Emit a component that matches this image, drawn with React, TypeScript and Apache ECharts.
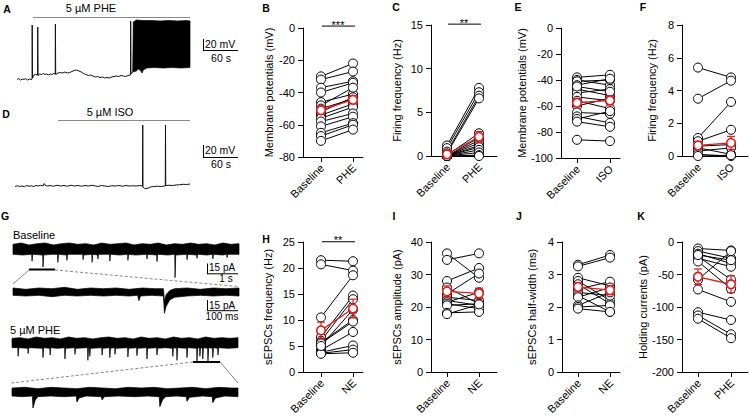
import React, { useEffect, useRef } from 'react';
import * as echarts from 'echarts';

const FONT = '"Liberation Sans", Arial, Helvetica, sans-serif';
const RED = '#e31a1c';

// ---------------- scatter-panel data ----------------
const catsPhe = ['Baseline', 'PHE'];
const catsIso = ['Baseline', 'ISO'];
const catsNe = ['Baseline', 'NE'];

// B: membrane potential (mV), baseline vs PHE
const bBaseline = [-30, -32, -37, -40, -46, -48, -50, -52, -54, -56, -58, -61, -65, -67, -70];
const bPhe = [-22, -27, -33, -34, -41, -37, -44, -43, -47, -49, -53, -55, -59, -60, -63];
const bMean = [-51, -44.5];
const bSem = [2.6, 2.5];

// C: firing frequency (Hz), baseline vs PHE
const cBaseline = [1.2, 0.9, 0.5, 0.3, 0.1, 0, 0, 0, 0, 0, 0, 0, 0, 0];
const cPhe = [7.8, 7.3, 6.9, 6.6, 2.6, 2.1, 1.8, 1.5, 1.2, 1.0, 0.7, 0.4, 0.1, 0.0];
const cMean = [0.2, 2.2];
const cSem = [0.1, 0.6];

// E: membrane potential (mV), baseline vs ISO
const eBaseline = [-38, -40, -41, -44, -47, -50, -53, -56, -60, -65, -68, -70, -72, -86, -45];
const eIso = [-36, -44, -40, -39, -52, -47, -56, -62, -54, -66, -73, -64, -76, -87, -49];
const eMean = [-57.5, -55.7];
const eSem = [3.0, 3.5];

// F: firing frequency (Hz), baseline vs ISO
const fBaseline = [5.4, 3.5, 1.1, 0.9, 0.6, 0.5, 0.3, 0.1, 0];
const fIso = [4.8, 4.6, 3.3, 1.6, 0.7, 0.1, 0.5, 0.0, 0.05];
const fMean = [0.65, 0.8];
const fSem = [0.25, 0.4];

// H: sEPSC frequency (Hz), baseline vs NE
const hBaseline = [21.5, 20.7, 10.5, 6.7, 6.0, 5.7, 5.5, 4.2, 3.8, 3.6, 3.5, 5.0];
const hNe = [21.3, 19.5, 18.6, 14.7, 14.0, 10.0, 9.7, 7.7, 5.1, 4.3, 3.7, 12.0];
const hMean = [8.0, 12.2];
const hSem = [1.6, 1.8];

// I: sEPSC amplitude (pA)
const iBaseline = [36.5, 34.5, 28.0, 26.0, 24.0, 23.0, 22.0, 21.5, 21.0, 20.5, 18.2, 17.8];
const iNe = [29.0, 36.5, 32.0, 21.0, 30.3, 22.0, 20.5, 24.5, 19.5, 21.0, 18.5, 20.8];
const iMean = [24.8, 24.2];
const iSem = [1.7, 1.6];

// J: sEPSC half-width (ms)
const jBaseline = [3.3, 3.25, 2.9, 2.8, 2.7, 2.55, 2.45, 2.35, 2.3, 2.05, 2.0, 1.95];
const jNe = [3.6, 3.52, 2.65, 2.2, 2.1, 2.78, 2.35, 1.85, 2.6, 2.45, 2.05, 1.85];
const jMean = [2.62, 2.52];
const jSem = [0.13, 0.14];

// K: holding currents (pA)
const kBaseline = [-10, -14, -18, -22, -25, -30, -58, -73, -108, -113, -118, -20];
const kPhe = [-13, -25, -33, -58, -38, -72, -14, -92, -120, -142, -148, -28];
const kMean = [-53.5, -65];
const kSem = [12, 13];

// ---------------- trace data ----------------
// A: membrane potential (mV) vs time (s)
const aTrace = [
  [0, -61], [3, -59], [6, -62], [9, -60], [12, -61], [15, -59], [18, -62], [21, -60], [24, -61], [25.8, -60],
  [26, 48], [26.5, -58], [29, -52], [32, -51], [35.2, -52], [35.5, 44], [36, -53], [39, -50], [42, -51],
  [45, -49], [48, -51], [51, -50], [54, -52], [57, -50], [60, -51], [63, -49], [65.4, -50], [65.7, 50],
  [66.2, -51], [70, -48], [74, -47], [78, -48], [82, -46], [86, -48], [90, -47], [94, -45], [98, -43],
  [102, -42], [106, -44], [110, -46], [114, -49], [118, -51], [122, -53], [126, -52], [130, -54],
  [134, -56], [138, -55], [142, -57], [146, -56], [150, -58], [154, -57], [158, -58], [162, -56],
  [166, -55], [170, -54], [174, -55], [178, -53], [182, -54], [186, -55], [190, -53], [194.2, -52],
  [194.5, 56], [195, -50], [198, -46],
];
const aBurstTop = [[198, -46], [199, 54], [204, 58], [215, 57], [230, 57], [245, 56], [260, 57], [275, 56], [290, 57], [296, 56]];
const aBurstBottom = [[198, -46], [204, -44], [208, -40], [212, -44], [214, -48], [216, -42], [222, -38], [235, -37], [250, -38], [265, -37], [280, -38], [296, -37]];

// D: membrane potential (mV) vs time (s)
const dTrace = [
  [0, -61], [4, -59.5], [8, -61], [12, -60], [16, -61.5], [20, -59], [24, -60.5], [28, -59.5], [32, -61],
  [36, -59], [40, -60], [44, -58.5], [48, -60], [50, -55], [52, -59], [56, -60], [60, -59], [66, -60.5],
  [72, -58.5], [78, -60], [84, -59], [90, -60.5], [96, -58.5], [102, -60], [108, -59], [114, -60.5],
  [120, -59], [126, -60], [132, -58.5], [138, -60], [142, -61], [148, -59], [154, -60], [160, -61],
  [166, -59.5], [172, -60], [178, -59], [184, -60.5], [190, -59], [196, -60], [202, -59.5], [208, -60],
  [214, -59], [218.6, -60], [219, 62], [219.4, -62], [222, -65], [228, -64.5], [232, -62], [238, -61],
  [244, -60.5], [250, -61], [256, -60], [257.6, -60], [258, 62], [258.4, -59], [264, -58.5], [270, -59],
  [276, -58], [282, -57.5], [288, -56.5], [294, -57], [300, -56],
];

// G1: baseline sEPSCs (pA) vs time (s)
const g1Upper = [
  [0, 7], [0.25, 9], [0.5, 6], [0.75, 8], [1.0, 9], [1.25, 6], [1.5, 8], [1.75, 9], [2.0, 7], [2.25, 8],
  [2.5, 6], [2.75, 9], [3.0, 7], [3.25, 8], [3.5, 9], [3.75, 6], [4.0, 8], [4.25, 7], [4.5, 9], [4.75, 6],
  [5.0, 8], [5.25, 7], [5.5, 9], [5.75, 7], [6.0, 8], [6.25, 6], [6.5, 9], [6.75, 7], [7.0, 8],
];
const g1Lower = [
  [0, -8], [0.3, -9], [0.58, -8], [0.59, -18], [0.61, -8], [0.92, -9], [0.93, -27], [0.95, -9], [1.2, -8],
  [1.38, -8], [1.39, -20], [1.41, -8], [1.66, -9], [1.67, -17], [1.69, -8], [2.16, -8], [2.17, -16],
  [2.19, -9], [2.44, -8], [2.45, -20], [2.47, -8], [2.62, -9], [2.63, -15], [2.65, -8], [2.99, -8],
  [3.0, -18], [3.02, -8], [3.3, -9], [3.55, -8], [3.56, -17], [3.58, -8], [3.8, -9], [4.14, -8],
  [4.15, -15], [4.17, -8], [4.45, -9], [4.46, -19], [4.48, -8], [4.8, -9], [5.01, -8], [5.02, -43],
  [5.04, -9], [5.38, -8], [5.39, -16], [5.41, -8], [5.69, -9], [5.7, -14], [5.72, -8], [6.0, -9],
  [6.18, -8], [6.19, -15], [6.21, -8], [6.5, -9], [6.62, -8], [6.63, -13], [6.65, -8], [7.0, -8],
];
// G2: expanded baseline (pA) vs time (ms)
const g2Upper = [
  [0, 6], [40, 4], [80, 6], [120, 5], [160, 7], [200, 4], [240, 6], [280, 5], [320, 6], [360, 4], [400, 6],
  [440, 5], [466, 5], [469, -14], [474, -4], [485, 2], [500, 5], [540, 6], [580, 4], [620, 6], [660, 5], [700, 6],
];
const g2Lower = [
  [0, -5], [40, -6], [80, -5], [120, -7], [160, -5], [200, -6], [240, -5], [280, -6], [320, -5], [360, -6],
  [386, -5], [390, -13], [395, -6], [430, -5], [466, -6], [469, -32], [474, -22], [485, -12], [500, -8],
  [540, -6], [580, -5], [620, -6], [660, -5], [700, -6],
];
// G3: PHE sEPSCs (pA) vs time (s)
const g3Upper = [
  [0, 7], [0.25, 8], [0.5, 6], [0.75, 9], [1.0, 7], [1.25, 8], [1.5, 6], [1.75, 9], [2.0, 7], [2.25, 8],
  [2.5, 6], [2.75, 8], [3.0, 9], [3.25, 7], [3.5, 8], [3.75, 6], [4.0, 9], [4.25, 7], [4.5, 8], [4.75, 6],
  [5.0, 9], [5.25, 7], [5.5, 8], [5.75, 6], [6.0, 9], [6.25, 7], [6.5, 8], [6.75, 7], [7.0, 8],
];
const g3Lower = [
  [0, -7], [0.18, -7], [0.19, -20], [0.21, -7], [0.49, -8], [0.5, -16], [0.52, -7], [0.95, -8], [0.96, -22],
  [0.98, -7], [1.17, -8], [1.18, -18], [1.2, -7], [1.4, -8], [1.63, -7], [1.64, -24], [1.66, -8], [1.94, -7],
  [1.95, -17], [1.97, -8], [2.34, -7], [2.35, -26], [2.37, -8], [2.4, -7], [2.41, -20], [2.43, -8],
  [2.78, -7], [2.79, -18], [2.81, -8], [3.02, -7], [3.03, -22], [3.05, -8], [3.18, -7], [3.19, -17],
  [3.21, -8], [3.58, -7], [3.59, -21], [3.61, -8], [3.86, -7], [3.87, -19], [3.89, -8], [4.17, -7],
  [4.18, -24], [4.2, -8], [4.48, -7], [4.49, -18], [4.51, -8], [4.75, -7], [4.97, -8], [4.98, -20],
  [5.0, -7], [5.1, -8], [5.11, -26], [5.13, -7], [5.41, -8], [5.42, -22], [5.44, -7], [5.72, -8],
  [5.73, -28], [5.75, -7], [5.81, -8], [5.82, -20], [5.84, -7], [5.9, -8], [5.91, -24], [5.93, -7],
  [6.06, -8], [6.07, -27], [6.09, -7], [6.21, -8], [6.22, -22], [6.24, -7], [6.37, -8], [6.38, -18],
  [6.4, -7], [6.7, -8], [7.0, -7],
];
// G4: expanded PHE (pA) vs time (ms)
const g4Upper = [
  [0, 6], [40, 7], [80, 5], [120, 7], [160, 6], [200, 5], [240, 7], [280, 6], [320, 5], [360, 7], [400, 6],
  [440, 7], [480, 5], [520, 6], [560, 7], [600, 5], [640, 7], [680, 6], [700, 6],
];
const g4Lower = [
  [0, -6], [30, -7], [63, -6], [65, -24], [72, -12], [80, -7], [120, -6], [160, -7], [199, -6], [201, -15],
  [208, -9], [230, -6], [277, -7], [279, -12], [286, -7], [330, -6], [380, -7], [420, -6], [456, -7],
  [458, -22], [466, -12], [476, -7], [510, -6], [540, -7], [542, -14], [550, -8], [590, -6], [620, -7],
  [622, -16], [630, -9], [660, -6], [700, -7],
];

// ---------------- panel layout ----------------
// x axis: one category slot per pixel; i0/i1 are the slots of the two conditions
const panels = [
  { base: bBaseline, after: bPhe, mean: bMean, sem: bSem, cats: catsPhe, yName: 'Membrane potentials (mV)', yMin: -80, yMax: 0, step: 20, left: 303, top: 28, width: 60, height: 129, i0: 18, i1: 50, gap: 29, sig: '***', sigY: 1.2 },
  { base: cBaseline, after: cPhe, mean: cMean, sem: cSem, cats: catsPhe, yName: 'Firing frequency (Hz)', yMin: 0, yMax: 15, step: 5, left: 431, top: 25, width: 66, height: 131, i0: 16, i1: 48, gap: 29, sig: '**', sigY: 15.1 },
  { base: eBaseline, after: eIso, mean: eMean, sem: eSem, cats: catsIso, yName: 'Membrane potentials (mV)', yMin: -100, yMax: 0, step: 20, left: 561, top: 28, width: 59, height: 130, i0: 16, i1: 49, gap: 33 },
  { base: fBaseline, after: fIso, mean: fMean, sem: fSem, cats: catsIso, yName: 'Firing frequency (Hz)', yMin: 0, yMax: 8, step: 2, left: 682, top: 25, width: 66, height: 131, i0: 16, i1: 49, gap: 25 },
  { base: hBaseline, after: hNe, mean: hMean, sem: hSem, cats: catsNe, yName: 'sEPSCs frequency (Hz)', yMin: 0, yMax: 25, step: 5, left: 303, top: 242, width: 60, height: 130, i0: 18, i1: 50, gap: 30, sig: '**', sigY: 25.05 },
  { base: iBaseline, after: iNe, mean: iMean, sem: iSem, cats: catsNe, yName: 'sEPSCs amplitude (pA)', yMin: 0, yMax: 40, step: 10, left: 431, top: 242, width: 66, height: 130, i0: 16, i1: 48, gap: 29 },
  { base: jBaseline, after: jNe, mean: jMean, sem: jSem, cats: catsNe, yName: 'sEPSCs half-width (ms)', yMin: 0, yMax: 4, step: 1, left: 562, top: 242, width: 58, height: 130, i0: 16, i1: 48, gap: 25 },
  { base: kBaseline, after: kPhe, mean: kMean, sem: kSem, cats: catsPhe, yName: 'Holding currents (pA)', yMin: -200, yMax: 0, step: 50, left: 682, top: 242, width: 66, height: 130, i0: 16, i1: 49, gap: 27 },
];
const LABEL_ROT = Math.PI / 4;

const traceGrids = [
  { left: 17, top: 15, width: 173, height: 70, xMin: 0, xMax: 296, yMin: -72, yMax: 68 },
  { left: 15, top: 115, width: 175, height: 80, xMin: 0, xMax: 300, yMin: -78, yMax: 82 },
  { left: 13, top: 238, width: 226, height: 44, xMin: 0, xMax: 7, yMin: -49.5, yMax: 16.5 },
  { left: 13, top: 284, width: 226, height: 32, xMin: 0, xMax: 700, yMin: -36, yMax: 12 },
  { left: 12, top: 333, width: 226, height: 32, xMin: 0, xMax: 7, yMin: -33, yMax: 15 },
  { left: 12, top: 383, width: 226, height: 30, xMin: 0, xMax: 700, yMin: -31.5, yMax: 13.5 },
];

function bandSeries(idx: number, upper: number[][], lower: number[][]) {
  return {
    type: 'custom', xAxisIndex: idx, yAxisIndex: idx, silent: true, z: 2,
    data: [[upper[0][0], upper[0][1]]],
    renderItem: (_p: any, api: any) => {
      const pts = upper.map((p) => api.coord(p)).concat(lower.slice().reverse().map((p) => api.coord(p)));
      return { type: 'polygon', shape: { points: pts }, style: { fill: '#000', stroke: '#000', lineWidth: 0.7 } };
    },
  };
}

function buildOption() {
  const grid: any[] = [];
  const xAxis: any[] = [];
  const yAxis: any[] = [];
  const series: any[] = [];
  const lab = { fontFamily: FONT, fontSize: 11, color: '#000' };

  panels.forEach((p, g) => {
    const n = p.width + 1;
    const slots = Array.from({ length: n }, (_, k) => 's' + k);
    const xs = [p.i0, p.i1];
    const show = (idx: number) => idx === p.i0 || idx === p.i1;
    grid.push({ left: p.left, top: p.top, width: p.width, height: p.height });
    xAxis.push({
      gridIndex: g, type: 'category', data: slots, boundaryGap: false,
      axisLine: { show: true, onZero: false, lineStyle: { color: '#000', width: 1 } },
      axisTick: { show: true, interval: show, length: 5, lineStyle: { color: '#000' } },
      axisLabel: { show: false },
      splitLine: { show: false },
    });
    yAxis.push({
      gridIndex: g, type: 'value', min: p.yMin, max: p.yMax, interval: p.step,
      axisLine: { show: true, onZero: false, lineStyle: { color: '#000', width: 1 } },
      axisTick: { show: true, length: 5, lineStyle: { color: '#000' } },
      axisLabel: { ...lab, margin: 8 },
      splitLine: { show: false },
      name: p.yName, nameLocation: 'middle', nameGap: p.gap,
      nameTextStyle: { ...lab },
    });
    // condition labels, rotated 45 degrees, anchored under each tick
    series.push({
      type: 'custom', xAxisIndex: g, yAxisIndex: g, silent: true, z: 2,
      data: [[xs[0], p.yMin, 0], [xs[1], p.yMin, 1]],
      renderItem: (_pp: any, api: any) => {
        const pt = api.coord([api.value(0), api.value(1)]);
        return {
          type: 'text', x: pt[0] + 1, y: pt[1] + 9, rotation: LABEL_ROT,
          style: { text: p.cats[api.value(2)], textAlign: 'right', textVerticalAlign: 'middle', font: `11px ${FONT}`, fill: '#000' },
        };
      },
    });
    series.push({
      type: 'custom', xAxisIndex: g, yAxisIndex: g, silent: true, z: 2,
      data: p.base.map((b, i) => [b, p.after[i]]),
      encode: { x: -1, y: [0, 1] },
      renderItem: (_pp: any, api: any) => {
        const p0 = api.coord([xs[0], api.value(0)]);
        const p1 = api.coord([xs[1], api.value(1)]);
        return { type: 'line', shape: { x1: p0[0], y1: p0[1], x2: p1[0], y2: p1[1] }, style: { stroke: '#000', lineWidth: 1 } };
      },
    });
    series.push({
      type: 'scatter', xAxisIndex: g, yAxisIndex: g, silent: true, z: 3, clip: false,
      symbol: 'circle', symbolSize: 9,
      itemStyle: { color: '#fff', borderColor: '#000', borderWidth: 1, opacity: 1 },
      data: [...p.base.map((v) => [xs[0], v]), ...p.after.map((v) => [xs[1], v])],
    });
    series.push({
      type: 'line', xAxisIndex: g, yAxisIndex: g, silent: true, z: 4, clip: false,
      data: p.mean.map((m, i) => [xs[i], m]),
      symbol: 'none',
      lineStyle: { color: RED, width: 1.3 },
    });
    series.push({
      type: 'custom', xAxisIndex: g, yAxisIndex: g, silent: true, z: 5,
      data: p.mean.map((m, i) => [xs[i], m, p.sem[i]]),
      renderItem: (_pp: any, api: any) => {
        const x = api.value(0), m = api.value(1), s = api.value(2);
        const c = api.coord([x, m]);
        const t = api.coord([x, m + s]);
        const b = api.coord([x, m - s]);
        const w = 4;
        const st = { stroke: RED, lineWidth: 1.2 };
        return {
          type: 'group', children: [
            { type: 'line', shape: { x1: t[0], y1: t[1], x2: b[0], y2: b[1] }, style: st },
            { type: 'line', shape: { x1: t[0] - w, y1: t[1], x2: t[0] + w, y2: t[1] }, style: st },
            { type: 'line', shape: { x1: b[0] - w, y1: b[1], x2: b[0] + w, y2: b[1] }, style: st },
            { type: 'circle', shape: { cx: c[0], cy: c[1], r: 4.3 }, style: { fill: '#fff', stroke: RED, lineWidth: 1.6 } },
          ],
        };
      },
    });
    if (p.sig) {
      series.push({
        type: 'custom', xAxisIndex: g, yAxisIndex: g, silent: true, z: 5,
        data: [[xs[0], p.sigY]],
        renderItem: (_pp: any, api: any) => {
          const y = api.value(1);
          const a = api.coord([xs[0], y]);
          const b = api.coord([xs[1], y]);
          return {
            type: 'group', children: [
              { type: 'line', shape: { x1: a[0] + 1, y1: a[1], x2: b[0] + 2, y2: b[1] }, style: { stroke: '#000', lineWidth: 1 } },
              { type: 'text', style: { text: p.sig, x: (a[0] + b[0]) / 2 + 1, y: a[1] - 1.5, textAlign: 'center', textVerticalAlign: 'middle', font: `11px ${FONT}`, fill: '#000' } },
            ],
          };
        },
      });
    }
  });

  const off = panels.length;
  traceGrids.forEach((t, i) => {
    grid.push({ left: t.left, top: t.top, width: t.width, height: t.height });
    xAxis.push({ gridIndex: off + i, type: 'value', min: t.xMin, max: t.xMax, show: false });
    yAxis.push({ gridIndex: off + i, type: 'value', min: t.yMin, max: t.yMax, show: false });
  });
  series.push({
    type: 'line', xAxisIndex: off, yAxisIndex: off, data: aTrace, symbol: 'none', silent: true, clip: false,
    lineStyle: { color: '#111', width: 1 },
  });
  series.push(bandSeries(off, aBurstTop, aBurstBottom));
  series.push({
    type: 'line', xAxisIndex: off + 1, yAxisIndex: off + 1, data: dTrace, symbol: 'none', silent: true, clip: false,
    lineStyle: { color: '#111', width: 1 },
  });
  series.push(bandSeries(off + 2, g1Upper, g1Lower));
  series.push(bandSeries(off + 3, g2Upper, g2Lower));
  series.push(bandSeries(off + 4, g3Upper, g3Lower));
  series.push(bandSeries(off + 5, g4Upper, g4Lower));

  const txt = (x: number, y: number, text: string, opts: any = {}) => ({
    type: 'text', x, y, silent: true,
    style: { text, font: `${opts.bold ? 'bold ' : ''}${opts.size || 11}px ${FONT}`, fill: '#000', textAlign: opts.align || 'left', textVerticalAlign: 'middle' },
  });
  const ln = (x1: number, y1: number, x2: number, y2: number, opts: any = {}) => ({
    type: 'line', silent: true, shape: { x1, y1, x2, y2 },
    style: { stroke: opts.color || '#000', lineWidth: opts.w || 1, lineDash: opts.dash || null },
  });

  const letters = [
    ['A', 7, 9], ['D', 6, 114], ['G', 5, 216], ['B', 266, 8], ['C', 396, 7], ['E', 518, 7], ['F', 643, 7],
    ['H', 266, 239], ['I', 394, 216], ['J', 519, 216], ['K', 641, 216],
  ];
  const elements: any[] = letters.map(([l, x, y]) => txt(x as number, y as number, l as string, { bold: true, size: 10.5, align: 'center' }));
  elements.push(
    txt(91, 8, '5 µM PHE', { align: 'center' }),
    ln(33, 17.5, 190, 17.5, { color: '#888' }),
    ln(203.5, 39, 203.5, 50.5),
    ln(203, 50.5, 238, 50.5),
    txt(205, 43.5, '20 mV', { size: 10.5 }),
    txt(221, 57.5, '60 s', { size: 10.5, align: 'center' }),

    txt(110, 112, '5 µM ISO', { align: 'center' }),
    ln(58, 120.5, 190, 120.5, { color: '#888' }),
    ln(203.5, 145, 203.5, 157.5),
    ln(203, 157.5, 238, 157.5),
    txt(205, 149.5, '20 mV', { size: 10.5 }),
    txt(221, 163.5, '60 s', { size: 10.5, align: 'center' }),

    txt(13, 235, 'Baseline'),
    ln(29, 269.5, 55, 269.5, { w: 2 }),
    ln(29, 270, 13, 284, { color: '#666', w: 0.8 }),
    ln(55, 270, 238, 286.5, { color: '#666', w: 0.8, dash: [3, 2] }),
    ln(207.5, 263.5, 207.5, 273.8),
    ln(207, 273.8, 238, 273.8),
    txt(209, 267.5, '15 pA', { size: 10 }),
    txt(226, 278.5, '1 s', { size: 10, align: 'center' }),

    ln(207.5, 300, 207.5, 310.7),
    ln(207, 310.7, 238, 310.7),
    txt(209, 305, '15 pA', { size: 10 }),
    txt(222, 316.5, '100 ms', { size: 10, align: 'center' }),

    txt(10, 329.5, '5 µM PHE'),
    ln(193, 362, 220, 362, { w: 2 }),
    ln(193, 362, 11, 383, { color: '#666', w: 0.8, dash: [3, 2] }),
    ln(220, 362, 238, 383, { color: '#666', w: 0.8 }),
  );

  return {
    animation: false,
    backgroundColor: '#fff',
    textStyle: { fontFamily: FONT },
    grid, xAxis, yAxis, series,
    graphic: { elements },
  };
}

export default function App() {
  const ref = useRef<HTMLDivElement>(null);
  useEffect(() => {
    if (!ref.current) return;
    const chart = echarts.init(ref.current, undefined, { renderer: 'svg' });
    chart.setOption(buildOption() as any);
    return () => chart.dispose();
  }, []);
  return <div ref={ref} style={{ position: 'fixed', left: 0, top: 0, width: 749, height: 417, background: '#fff' }} />;
}
